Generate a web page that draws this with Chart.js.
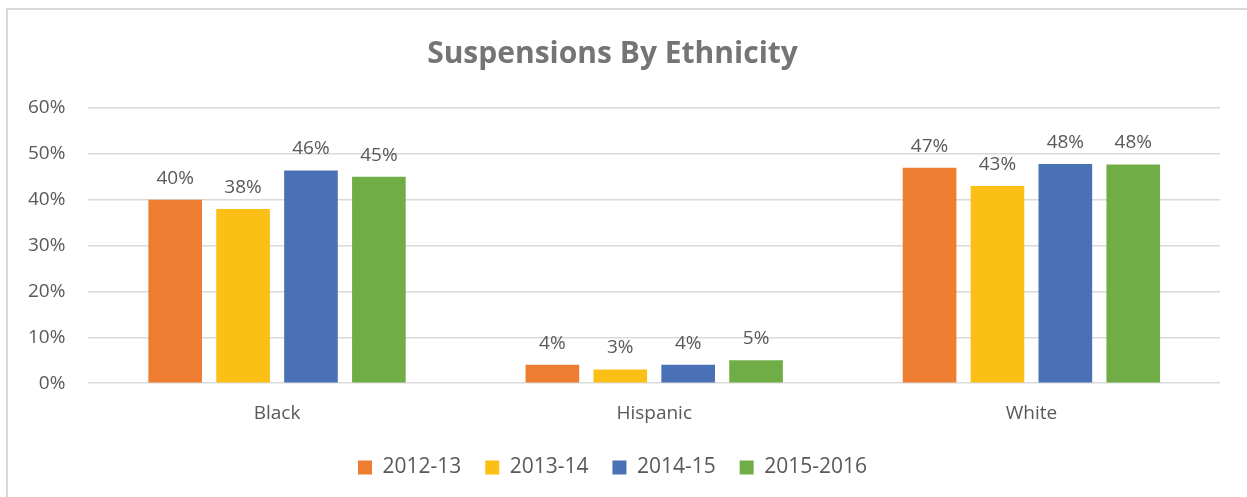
<!DOCTYPE html>
<html>
<head>
<meta charset="utf-8">
<script src="https://cdn.jsdelivr.net/npm/chart.js@4/dist/chart.umd.min.js"></script>
<style>
  html, body { margin: 0; padding: 0; background: #fff; overflow: hidden; }
  #frame {
    position: absolute; left: 6px; top: 8px; width: 1260px; height: 500px;
    border-top: 2px solid #d9d9d9; border-left: 2px solid #d9d9d9;
  }
  #wrap { position: absolute; left: 0; top: 0; width: 1247px; height: 497px; }
</style>
</head>
<body>
<div id="frame"></div>
<div id="wrap"><canvas id="chartSusp"></canvas></div>
<script>
const categories = ["Black", "Hispanic", "White"];
const seriesNames = ["2012-13", "2013-14", "2014-15", "2015-2016"];
const s2012 = [40, 4, 47];
const s2013 = [38, 3, 43];
const s2014 = [46.4, 4, 47.8];
const s2015 = [45, 5, 47.7];
const colors = ["#ed7d31", "#fcbf16", "#4a70b5", "#70ad47"];
const yTicks = [0, 10, 20, 30, 40, 50, 60];

const fontFam = "'Open Sans', 'Liberation Sans', sans-serif";

// draws the value labels above each bar
const barLabels = {
  id: "barLabels",
  afterDatasetsDraw(chart) {
    const ctx = chart.ctx;
    ctx.save();
    ctx.font = "19px " + fontFam;
    ctx.fillStyle = "#595959";
    ctx.textAlign = "center";
    ctx.textBaseline = "bottom";
    chart.data.datasets.forEach((ds, i) => {
      chart.getDatasetMeta(i).data.forEach((bar, j) => {
        ctx.fillText(Math.round(ds.data[j]) + "%", bar.x, bar.y - 12);
      });
    });
    ctx.restore();
  },
};

document.addEventListener("DOMContentLoaded", () => {
  new Chart(document.querySelector("#chartSusp"), {
    type: "bar",
    data: {
      labels: categories,
      datasets: [s2012, s2013, s2014, s2015].map((d, i) => ({
        label: seriesNames[i],
        data: d,
        backgroundColor: colors[i],
        borderWidth: 0,
        categoryPercentage: 0.72,
        barPercentage: 0.79,
      })),
    },
    options: {
      responsive: true,
      maintainAspectRatio: false,
      animation: false,
      layout: { padding: { left: 5, right: 27, top: 28, bottom: 9 } },
      scales: {
        x: {
          grid: { display: false, drawTicks: false },
          border: { display: false },
          ticks: { color: "#595959", font: { size: 19, family: fontFam }, padding: 19 },
        },
        y: {
          min: 0,
          max: 60,
          afterBuildTicks: (axis) => { axis.ticks = yTicks.map((v) => ({ value: v })); },
          grid: { color: "#d9d9d9", lineWidth: 1.5, drawTicks: false },
          border: { display: false },
          ticks: {
            color: "#595959",
            font: { size: 19, family: fontFam },
            padding: 23,
            callback: (v) => v + "%",
          },
        },
      },
      plugins: {
        title: {
          display: true,
          text: "Suspensions By Ethnicity",
          color: "#757575",
          font: { size: 30, weight: "bold", family: fontFam },
          padding: { top: 8, bottom: 36 },
        },
        legend: {
          position: "bottom",
          labels: {
            color: "#595959",
            font: { size: 21, family: fontFam },
            boxWidth: 14,
            boxHeight: 14,
            padding: 13,
            // a little extra room between items without making the legend taller
            generateLabels: (chart) =>
              Chart.defaults.plugins.legend.labels.generateLabels(chart).map((l, i, arr) => {
                if (i < arr.length - 1) l.text = l.text + "\u00a0\u00a0";
                return l;
              }),
          },
        },
        tooltip: { enabled: false },
      },
    },
    plugins: [barLabels],
  });
});
</script>
</body>
</html>
